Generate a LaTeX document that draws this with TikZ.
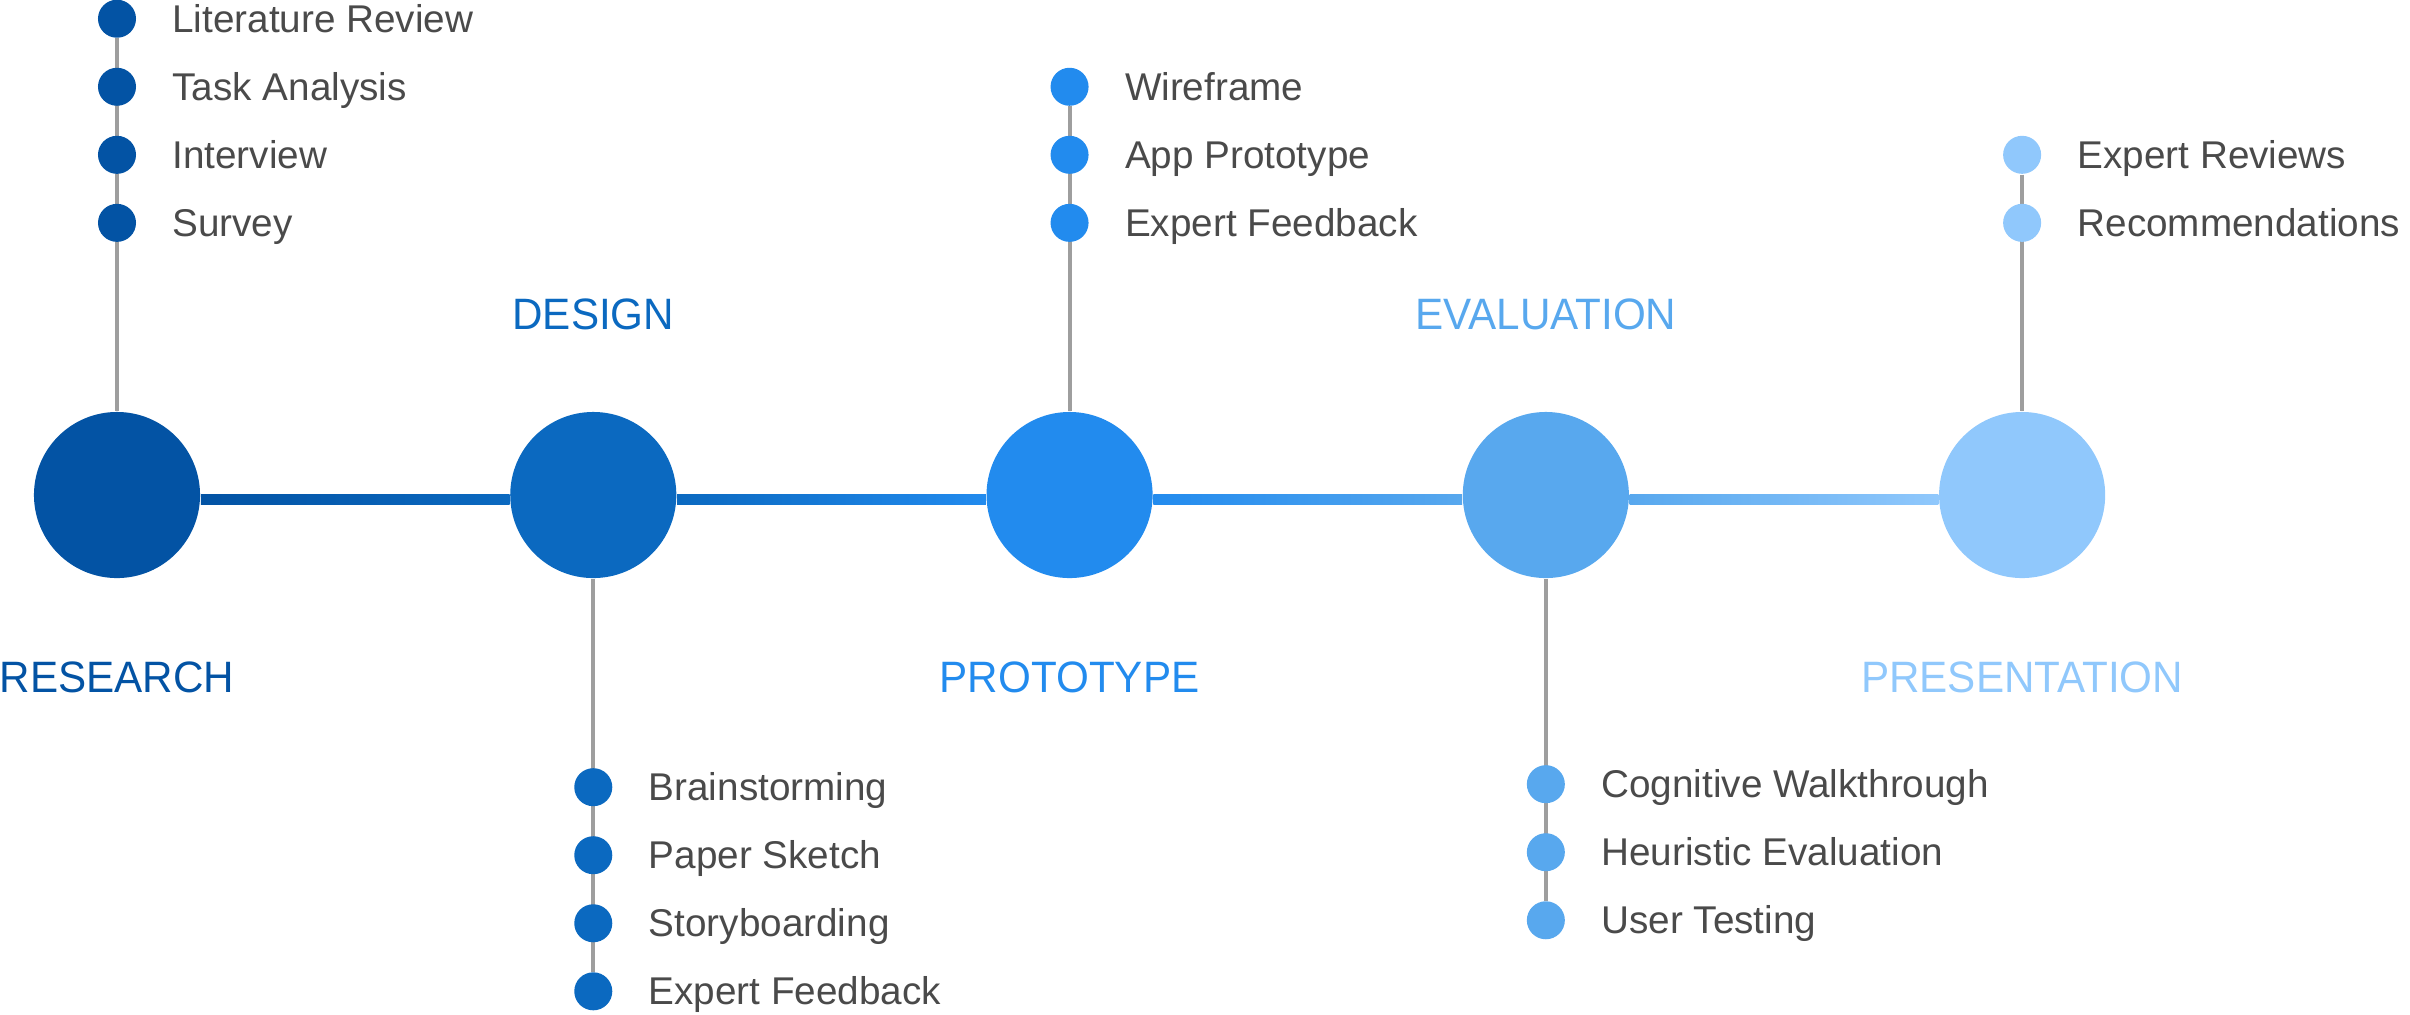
\documentclass[tikz,border=0pt]{standalone}
\usepackage{fontspec}
\setmainfont{Liberation Sans}
\newfontfamily\phasefont[FakeStretch=0.96]{Liberation Sans}
\usepackage{tikz}
\usetikzlibrary{backgrounds}
\usepackage{color}
\definecolor{rcol}{HTML}{0353A4}
\definecolor{dcol}{HTML}{0B69C0}
\definecolor{pcol}{HTML}{228BEE}
\definecolor{ecol}{HTML}{58A8EE}
\definecolor{scol}{HTML}{90C8FC}
\definecolor{stemgray}{HTML}{9E9E9E}
\definecolor{txt}{HTML}{4A4A4A}

\begin{document}
\begin{tikzpicture}[x=0.01cm,y=-0.01cm,node distance=4.76cm,label distance=0.35cm,
    phase/.style={circle,fill=#1,minimum size=1.66cm,inner sep=0pt},
    dot/.style={circle,fill=#1,minimum size=0.38cm,inner sep=0pt,node distance=0.68cm},
    item/.style={text=txt,font=\fontsize{11pt}{13pt}\selectfont,inner sep=0pt,text height=0.27cm,text depth=0pt},
    title/.style={text=#1,font=\phasefont\fontsize{12.5pt}{15pt}\selectfont,anchor=base,inner sep=0pt},
    stem/.style={draw=stemgray,line width=0.04cm},
    every label/.style={item}]
                \useasboundingbox (0,0) rectangle (2410,1014);
                \node[phase=rcol] (research) at (117,495) {};
                \node[phase=dcol] (design) [right of = research] {};
                \node[phase=pcol] (prototype) [right of = design] {};
                \node[phase=ecol] (evaluation) [right of = prototype] {};
                \node[phase=scol] (presentation) [right of = evaluation] {};

                \node[title=rcol] (researchname) at ([yshift=-1.97cm]research) {RESEARCH};
                \node[title=dcol] (designname) at ([yshift=1.65cm]design) {DESIGN};
                \node[title=pcol] (prototypename) at ([yshift=-1.97cm]prototype) {PROTOTYPE};
                \node[title=ecol] (evaluationname) at ([yshift=1.65cm]evaluation) {EVALUATION};
                \node[title=scol] (presentationname) at ([yshift=-1.97cm]presentation) {PRESENTATION};

                % research
                \node[dot=rcol, label=right:Survey] (r4) [node distance=2.72cm, above of = research] {};
                \node[dot=rcol, label=right:Interview] (r3) [above of = r4] {};
                \node[dot=rcol, label=right:Task Analysis] (r2) [above of = r3] {};
                \node[dot=rcol, label=right:Literature Review] (r1) [above of = r2] {};
                % design
                \node[dot=dcol, label=right:Brainstorming] (d1) [node distance=2.92cm, below of = design] {};
                \node[dot=dcol, label=right:Paper Sketch] (d2) [below of = d1] {};
                \node[dot=dcol, label=right:Storyboarding] (d3) [below of = d2] {};
                \node[dot=dcol, label=right:Expert Feedback] (d4) [below of = d3] {};
                % prototype
                \node[dot=pcol, label=right:Expert Feedback] (p3) [node distance=2.72cm, above of = prototype] {};
                \node[dot=pcol, label=right:App Prototype] (p2) [above of = p3] {};
                \node[dot=pcol, label=right:Wireframe] (p1) [above of = p2] {};
                % evaluation
                \node[dot=ecol, label=right:Cognitive Walkthrough] (e1) [node distance=2.89cm, below of = evaluation] {};
                \node[dot=ecol, label=right:Heuristic Evaluation] (e2) [below of = e1] {};
                \node[dot=ecol, label=right:User Testing] (e3) [below of = e2] {};
                % presentation
                \node[dot=scol, label=right:Recommendations] (s2) [node distance=2.72cm, above of = presentation] {};
                \node[dot=scol, label=right:Expert Reviews] (s1) [above of = s2] {};

                \begin{pgfonlayer}{background}
                \shade[left color=rcol, right color=dcol] ([yshift=0.01cm]research.east) rectangle ([yshift=-0.09cm]design.west);
                \shade[left color=dcol, right color=pcol] ([yshift=0.01cm]design.east) rectangle ([yshift=-0.09cm]prototype.west);
                \shade[left color=pcol, right color=ecol] ([yshift=0.01cm]prototype.east) rectangle ([yshift=-0.09cm]evaluation.west);
                \shade[left color=ecol, right color=scol] ([yshift=0.01cm]evaluation.east) rectangle ([yshift=-0.09cm]presentation.west);
                \draw[stem] (r1) -- (research);
                \draw[stem] (design) -- (d4);
                \draw[stem] (p1) -- (prototype);
                \draw[stem] (evaluation) -- (e3);
                \draw[stem] (s1) -- (presentation);
                \end{pgfonlayer}
            \end{tikzpicture}
\end{document}
